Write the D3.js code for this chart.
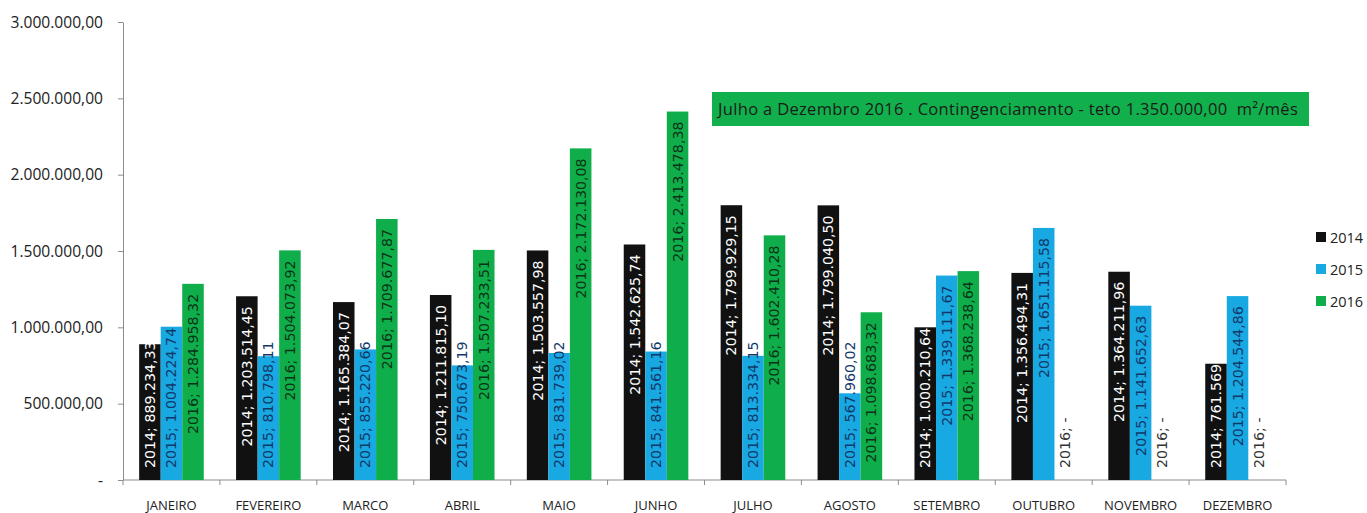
<!DOCTYPE html>
<html><head><meta charset="utf-8">
<script src="https://cdn.jsdelivr.net/npm/d3@7"></script>
<style>
body{margin:0;background:#fff;}
svg{display:block;}
</style></head>
<body><svg id="c" width="1367" height="513"></svg>
<script>
const months = ["JANEIRO","FEVEREIRO","MARCO","ABRIL","MAIO","JUNHO","JULHO","AGOSTO","SETEMBRO","OUTUBRO","NOVEMBRO","DEZEMBRO"];
const seriesNames = ["2014","2015","2016"];
const values2014 = [889234.33,1203514.45,1165384.07,1211815.10,1503557.98,1542625.74,1799929.15,1799040.50,1000210.64,1356494.31,1364211.96,761569];
const values2015 = [1004224.74,810798.11,855220.66,750673.19,831739.02,841561.16,813334.15,567960.02,1339111.67,1651115.58,1141652.63,1204544.86];
const values2016 = [1284958.32,1504073.92,1709677.87,1507233.51,2172130.08,2413478.38,1602410.28,1098683.32,1368238.64,0,0,0];
const yTicks = [0,500000,1000000,1500000,2000000,2500000,3000000];
const noteText = "Julho a Dezembro 2016 . Contingenciamento - teto 1.350.000,00  m²/mês";

const barColors = {"2014":"#111111","2015":"#18a8e2","2016":"#10ae4a"};
const labelColors = {"2014":"#ffffff","2015":"#12386a","2016":"#0b3318"};

const loc = d3.formatLocale({decimal:",",thousands:".",grouping:[3],currency:["R$",""]});
const f2 = loc.format(",.2f"), f0 = loc.format(",.0f");
const fmtVal = v => v===0 ? "-" : (Number.isInteger(v) ? f0(v) : f2(v));

const svg = d3.select("#c");
const x0 = 123, x1 = 1286, yBase = 480, yTop = 22;
const x = d3.scaleBand().domain(months).range([x0,x1]);
const bw = x.bandwidth();
const xs = d3.scaleBand().domain(seriesNames).range([bw/6, bw - bw/6]);
const y = d3.scaleLinear().domain([0,3000000]).range([yBase,yTop]);

const data = months.map((m,i)=>({m, vals:[values2014[i],values2015[i],values2016[i]]}));

// y axis
const yAxis = d3.axisLeft(y).tickValues(yTicks).tickSize(5).tickSizeOuter(0)
  .tickFormat(v => v===0 ? "-" : f2(v));
const gy = svg.append("g").attr("transform",`translate(${x0},0)`).call(yAxis);
gy.select(".domain").attr("stroke","#8c8c8c");
gy.selectAll(".tick line").attr("stroke","#8c8c8c");
gy.selectAll(".tick text").attr("x",-20).attr("fill","#222")
  .style("font-family","'Open Sans'").style("font-size","15.6px");

// x axis
const gx = svg.append("g");
gx.append("line").attr("x1",x0).attr("x2",x1).attr("y1",yBase).attr("y2",yBase).attr("stroke","#8c8c8c");
const bounds = months.map(m=>x(m)).concat([x1]);
gx.selectAll("line.tk").data(bounds).join("line").attr("class","tk")
  .attr("x1",d=>d).attr("x2",d=>d).attr("y1",yBase).attr("y2",yBase+5).attr("stroke","#8c8c8c");
gx.selectAll("text").data(months).join("text")
  .attr("x",d=>x(d)+bw/2).attr("y",510).attr("text-anchor","middle")
  .attr("fill","#222").style("font-family","'Open Sans'").style("font-size","13px").text(d=>d);

// bars
const groups = svg.append("g").selectAll("g").data(data).join("g")
  .attr("transform",d=>`translate(${x(d.m)},0)`);
groups.selectAll("rect").data(d=>d.vals.map((v,k)=>({s:seriesNames[k],v}))).join("rect")
  .attr("x",d=>xs(d.s)).attr("width",xs.bandwidth())
  .attr("y",d=>y(d.v)).attr("height",d=>yBase-y(d.v))
  .attr("fill",d=>barColors[d.s]);

// labels
groups.each(function(d){
  const g = d3.select(this);
  d.vals.forEach((v,k)=>{
    const s = seriesNames[k];
    const cx = xs(s) + xs.bandwidth()/2;
    const t = g.append("text").text(`${s}; ${fmtVal(v)}`)
      .attr("text-anchor","start").attr("dominant-baseline","central")
      .attr("fill", v===0 ? "#333" : labelColors[s])
      .style("font-family","'DejaVu Sans'").style("font-size","14.2px")
      .style("white-space","pre");
    const len = t.node().getComputedTextLength();
    let bottom = y(v) + 10 + len;
    if (bottom > yBase - 12) bottom = yBase - 12;
    t.attr("transform",`translate(${cx},${bottom}) rotate(-90)`);
  });
});

// annotation
const note = svg.append("g");
note.append("rect").attr("x",712).attr("y",92).attr("width",597).attr("height",34).attr("fill","#12b04c");
note.append("text").attr("x",718).attr("y",115).attr("fill","#1a1a1a")
  .style("white-space","pre").style("letter-spacing","0.33px")
  .style("font-family","'Open Sans'").style("font-size","16.5px").text(noteText);

// legend
const lg = svg.append("g").selectAll("g").data(seriesNames).join("g")
  .attr("transform",(d,i)=>`translate(1316,${237+i*32})`);
lg.append("rect").attr("x",0).attr("y",-5).attr("width",10).attr("height",10).attr("fill",d=>barColors[d]);
lg.append("text").attr("x",14).attr("y",0).attr("dominant-baseline","central")
  .attr("fill","#222").style("font-family","'Open Sans'").style("font-size","14.5px").text(d=>d);
</script></body></html>
